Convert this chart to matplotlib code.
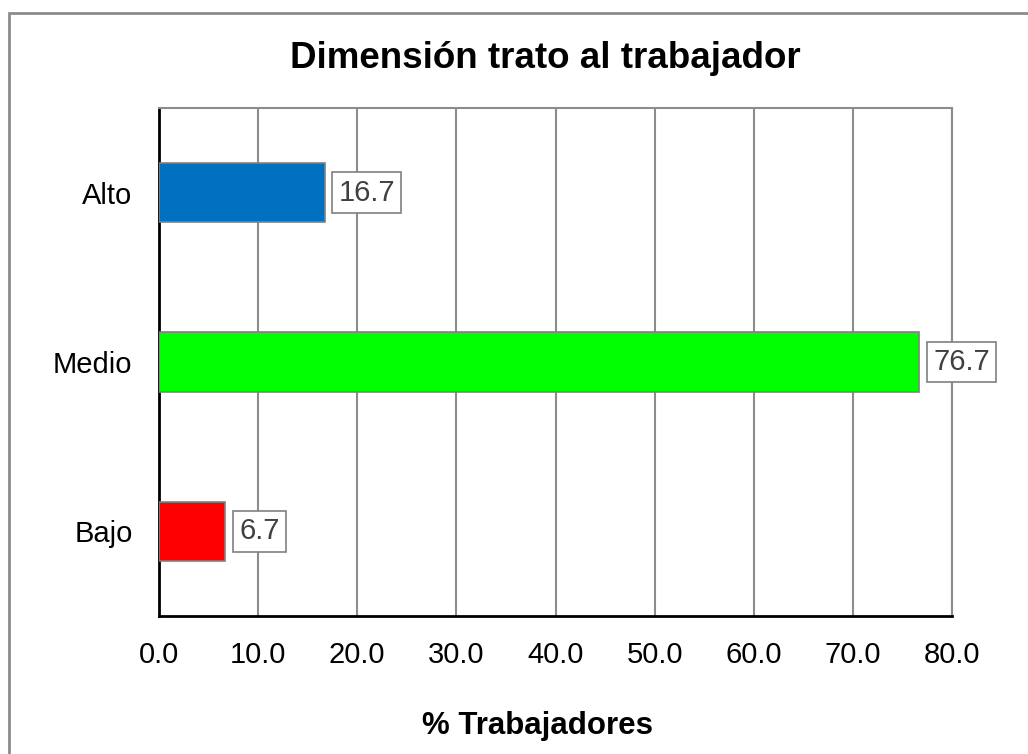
import matplotlib
matplotlib.use("Agg")
import matplotlib.pyplot as plt
from matplotlib.patches import Rectangle

plt.rcParams['font.family'] = ['Liberation Sans', 'DejaVu Sans']

categories = ["Bajo", "Medio", "Alto"]
values = [6.7, 76.7, 16.7]
colors = ["#FF0000", "#00FF00", "#0070C0"]
xticks = [0, 10, 20, 30, 40, 50, 60, 70, 80]

fig = plt.figure(figsize=(10.28, 7.54), dpi=100)
ax = fig.add_axes([159/1028, 1 - 616/754, 793/1028, 508/754])

# outer chart border
fig.patches.append(Rectangle((9/1028, -0.1), 1.2, 1 - 13/754 + 0.1,
                             transform=fig.transFigure, fill=False,
                             edgecolor="#8c8c8c", linewidth=2, zorder=0))

y = range(len(categories))
ax.barh(y, values, height=0.35, color=colors, edgecolor="#808080",
        linewidth=1.2, zorder=3)

for yi, v in zip(y, values):
    ax.annotate(f"{v:.1f}", (v, yi), xytext=(10, 0), textcoords="offset points",
                ha="left", va="center", fontsize=21, color="#404040",
                bbox=dict(boxstyle="square,pad=0.22", facecolor="white",
                          edgecolor="#808080", linewidth=1.2), zorder=5)

ax.set_xlim(0, 80)
ax.set_ylim(-0.5, 2.5)
ax.set_xticks(xticks)
ax.set_xticklabels([f"{t:.1f}" for t in xticks], fontsize=21)
ax.set_yticks(list(y))
ax.set_yticklabels(categories, fontsize=21)
ax.tick_params(axis="both", length=0, colors="black")
ax.tick_params(axis="x", pad=18)
ax.tick_params(axis="y", pad=19)

ax.grid(axis="x", color="#8c8c8c", linewidth=1.5, zorder=0)
ax.set_axisbelow(True)
for s in ["top", "right"]:
    ax.spines[s].set_color("#8c8c8c")
    ax.spines[s].set_linewidth(1.5)
for s in ["left", "bottom"]:
    ax.spines[s].set_color("black")
    ax.spines[s].set_linewidth(2)

fig.text(545/1028, 1 - 59/754, "Dimensión trato al trabajador", ha="center",
         va="center", fontsize=26.5, fontweight="bold")
fig.text(537/1028, 1 - 726/754, "% Trabajadores", ha="center", va="center",
         fontsize=22.5, fontweight="bold")

fig.savefig("out.png", dpi=100)
